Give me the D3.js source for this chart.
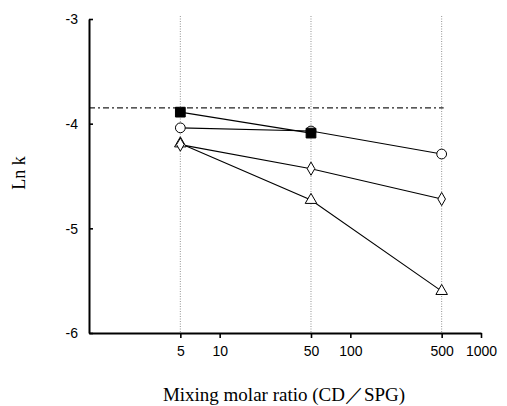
<!DOCTYPE html>
<html lang="en">
<head>
  <meta charset="UTF-8" />
  <title>Ln k vs mixing molar ratio</title>
  <script src="https://d3js.org/d3.v7.min.js"></script>
  <style>
    body { margin: 0; background: #fff; }
    .tick text { font-family: "Liberation Sans", Arial, sans-serif; font-size: 14px; fill: #000; }
    .axis-title { font-family: "Liberation Serif", "Times New Roman", serif; font-size: 18px; fill: #000; }
  </style>
</head>
<body>
  <svg id="chart" width="507" height="406"></svg>
  <script>
    // data
    const ratios = [5, 50, 500];
    const squareVals = [-3.89, -4.09];          // filled square (only 5 and 50)
    const circleVals = [-4.04, -4.07, -4.29];   // open circle
    const diamondVals = [-4.2, -4.43, -4.72];   // open diamond
    const triangleVals = [-4.19, -4.73, -5.6];  // open triangle
    const refLevel = -3.85;                     // dash-dot reference line
    const xTicks = [5, 10, 50, 100, 500, 1000];
    const yTicks = [-3, -4, -5, -6];

    const svg = d3.select("#chart");

    const x = d3.scaleLog().domain([1, 1000]).range([89, 481]);
    const y = d3.scaleLinear().domain([-6, -3]).range([333, 19]);

    // dotted guides at the measured ratios
    svg.append("g")
      .selectAll("line")
      .data(ratios)
      .enter()
      .append("line")
      .attr("x1", d => x(d)).attr("x2", d => x(d))
      .attr("y1", 16).attr("y2", y(-6))
      .attr("stroke", "#777")
      .attr("stroke-width", 0.8)
      .attr("stroke-dasharray", "1,1.5");

    // dash-dot reference line
    svg.append("line")
      .attr("x1", x(1)).attr("x2", x(500) + 2)
      .attr("y1", y(refLevel)).attr("y2", y(refLevel))
      .attr("stroke", "#222")
      .attr("stroke-width", 1.2)
      .attr("stroke-dasharray", "6,3,2,3");

    // axes
    const xAxis = d3.axisBottom(x)
      .tickValues(xTicks)
      .tickFormat(d3.format("d"))
      .tickSizeInner(5).tickSizeOuter(0).tickPadding(5);
    const gx = svg.append("g")
      .attr("transform", `translate(0, ${y(-6)})`)
      .call(xAxis);

    const yAxis = d3.axisLeft(y)
      .tickValues(yTicks)
      .tickFormat(d => d)
      .tickSizeInner(-4).tickSizeOuter(0).tickPadding(11);
    const gy = svg.append("g")
      .attr("transform", `translate(${x(1)}, 0)`)
      .call(yAxis);

    [gx, gy].forEach(g => {
      g.select(".domain").attr("stroke", "#000").attr("stroke-width", 2);
      g.selectAll(".tick line").attr("stroke", "#000").attr("stroke-width", 1.6);
    });
    gy.selectAll(".tick text").attr("dy", "0.35em").text(d => "-" + Math.abs(d));
    gx.selectAll(".tick text").attr("dy", "0.9em");

    // series lines
    const line = d3.line()
      .x(d => x(d[0]))
      .y(d => y(d[1]));

    const series = [
      { vals: triangleVals, shape: d3.symbolTriangle, size: 58, fill: "#fff" },
      { vals: diamondVals, shape: d3.symbolDiamond, size: 50, fill: "#fff" },
      { vals: circleVals, shape: d3.symbolCircle, size: 75, fill: "#fff" },
      { vals: squareVals, shape: d3.symbolSquare, size: 95, fill: "#000" }
    ];

    series.forEach(s => {
      const pts = s.vals.map((v, i) => [ratios[i], v]);
      svg.append("path")
        .datum(pts)
        .attr("d", line)
        .attr("fill", "none")
        .attr("stroke", "#000")
        .attr("stroke-width", 1.1);
    });

    series.forEach(s => {
      const pts = s.vals.map((v, i) => [ratios[i], v]);
      svg.append("g")
        .selectAll("path")
        .data(pts)
        .enter()
        .append("path")
        .attr("d", d3.symbol().type(s.shape).size(s.size))
        .attr("transform", d => `translate(${x(d[0])}, ${y(d[1])})`)
        .attr("fill", s.fill)
        .attr("stroke", "#000")
        .attr("stroke-width", 1);
    });

    // axis titles
    svg.append("text")
      .attr("class", "axis-title")
      .attr("transform", "translate(25, 173) rotate(-90)")
      .attr("text-anchor", "middle")
      .text("Ln k");

    svg.append("text")
      .attr("class", "axis-title")
      .attr("x", 284)
      .attr("y", 401)
      .attr("text-anchor", "middle")
      .style("font-size", "19px")
      .text("Mixing molar ratio (CD／SPG)");
  </script>
</body>
</html>
